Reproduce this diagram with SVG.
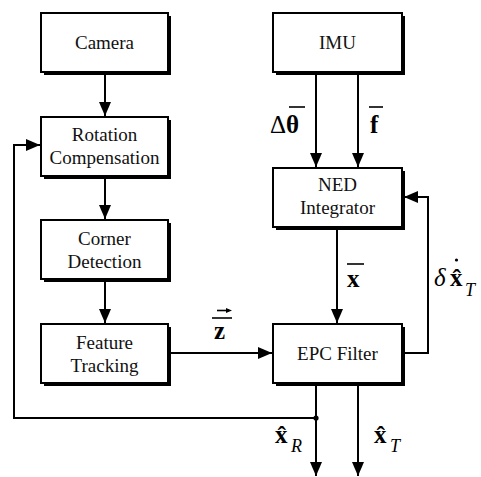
<svg xmlns="http://www.w3.org/2000/svg" width="481" height="477" viewBox="0 0 481 477">
  <style>
    .box { fill: #fff; stroke: #000; stroke-width: 2; }
    .shadow { fill: #000; }
    .lbl { font-family: "Liberation Serif", "Times New Roman", serif; font-size: 19px; fill: #111; text-anchor: middle; }
    .wire { fill: none; stroke: #000; stroke-width: 2; }
    .math { font-family: "Liberation Serif", "Times New Roman", serif; fill: #000; font-size: 25px; }
    .b { font-weight: bold; }
    .i { font-style: italic; font-weight: normal; }
    .bar { stroke: #000; stroke-width: 1.6; }
  </style>
  <defs>
    <marker id="arr" markerUnits="userSpaceOnUse" markerWidth="14" markerHeight="14" viewBox="0 0 14 12" refX="14" refY="6" orient="auto">
      <path d="M0,0 L14,6 L0,12 Z" fill="#000"/>
    </marker>
  </defs>
  <rect width="481" height="477" fill="#fff"/>

  <!-- connectors -->
  <g id="connectors">
    <path class="wire" d="M105,74 V116" marker-end="url(#arr)"/>
    <path class="wire" d="M105,178 V219" marker-end="url(#arr)"/>
    <path class="wire" d="M105,282 V323" marker-end="url(#arr)"/>
    <path class="wire" d="M170,353 H272" marker-end="url(#arr)"/>
    <path class="wire" d="M316,74 V167" marker-end="url(#arr)"/>
    <path class="wire" d="M358,74 V167" marker-end="url(#arr)"/>
    <path class="wire" d="M337,229 V323" marker-end="url(#arr)"/>
    <path class="wire" d="M405,353 H428 V197 H404" marker-end="url(#arr)"/>
    <path class="wire" d="M316,385 V476" marker-end="url(#arr)"/>
    <path class="wire" d="M358,385 V476" marker-end="url(#arr)"/>
    <path class="wire" d="M316,418 H14 V145 H40" marker-end="url(#arr)"/>
    <circle cx="316" cy="418" r="2.6" fill="#000"/>
  </g>

  <g id="camera">
    <rect class="shadow" x="44" y="16" width="127" height="59"/>
    <rect class="box" x="41" y="13" width="127" height="59"/>
    <text class="lbl" x="104.5" y="49">Camera</text>
  </g>
  <g id="rotation-compensation">
    <rect class="shadow" x="44" y="120" width="127" height="59"/>
    <rect class="box" x="41" y="117" width="127" height="59"/>
    <text class="lbl" x="104.5" y="141">Rotation</text>
    <text class="lbl" x="104.5" y="164">Compensation</text>
  </g>
  <g id="corner-detection">
    <rect class="shadow" x="44" y="223" width="127" height="59"/>
    <rect class="box" x="41" y="220" width="127" height="59"/>
    <text class="lbl" x="104.5" y="245">Corner</text>
    <text class="lbl" x="104.5" y="268">Detection</text>
  </g>
  <g id="feature-tracking">
    <rect class="shadow" x="44" y="327" width="127" height="59"/>
    <rect class="box" x="41" y="324" width="127" height="59"/>
    <text class="lbl" x="104.5" y="349">Feature</text>
    <text class="lbl" x="104.5" y="372">Tracking</text>
  </g>
  <g id="imu">
    <rect class="shadow" x="276" y="16" width="129" height="59"/>
    <rect class="box" x="273" y="13" width="129" height="59"/>
    <text class="lbl" x="337.5" y="49">IMU</text>
  </g>
  <g id="ned-integrator">
    <rect class="shadow" x="276" y="171" width="129" height="59"/>
    <rect class="box" x="273" y="168" width="129" height="59"/>
    <text class="lbl" x="337.5" y="191">NED</text>
    <text class="lbl" x="337.5" y="214">Integrator</text>
  </g>
  <g id="epc-filter">
    <rect class="shadow" x="276" y="327" width="129" height="59"/>
    <rect class="box" x="273" y="324" width="129" height="59"/>
    <text class="lbl" x="337.5" y="360">EPC Filter</text>
  </g>

  <!-- signal labels -->
  <g id="labels">
    <!-- delta theta bar -->
    <text class="math" x="270" y="133">Δ<tspan class="b">θ</tspan></text>
    <line class="bar" x1="289" y1="107" x2="305" y2="107"/>
    <!-- f bar -->
    <text class="math b" x="370" y="133">f</text>
    <line class="bar" x1="369" y1="107" x2="383" y2="107"/>
    <!-- x bar -->
    <text class="math b" x="347" y="287">x</text>
    <line class="bar" x1="347" y1="264" x2="364" y2="264"/>
    <!-- z with bar and arrow -->
    <text class="math b" x="214" y="339">z</text>
    <line class="bar" x1="212" y1="318" x2="232" y2="318"/>
    <line class="bar" x1="217" y1="310.5" x2="229" y2="310.5" stroke-width="1.2"/>
    <path d="M226,308 L232,310.5 L226,313 Z" fill="#000"/>
    <!-- delta x hat dot, subscript T -->
    <text class="math" x="434" y="286"><tspan class="i">δ</tspan><tspan class="b" x="450">x&#x302;</tspan><tspan class="i" x="465" y="296" font-size="18">T</tspan></text>
    <circle cx="456.5" cy="260" r="1.6" fill="#000"/>
    <!-- x hat, subscript R -->
    <text class="math" x="275" y="443"><tspan class="b">x&#x302;</tspan><tspan class="i" x="291" y="452" font-size="18">R</tspan></text>
    <!-- x hat, subscript T -->
    <text class="math" x="374" y="443"><tspan class="b">x&#x302;</tspan><tspan class="i" x="390" y="452" font-size="18">T</tspan></text>
  </g>
</svg>
